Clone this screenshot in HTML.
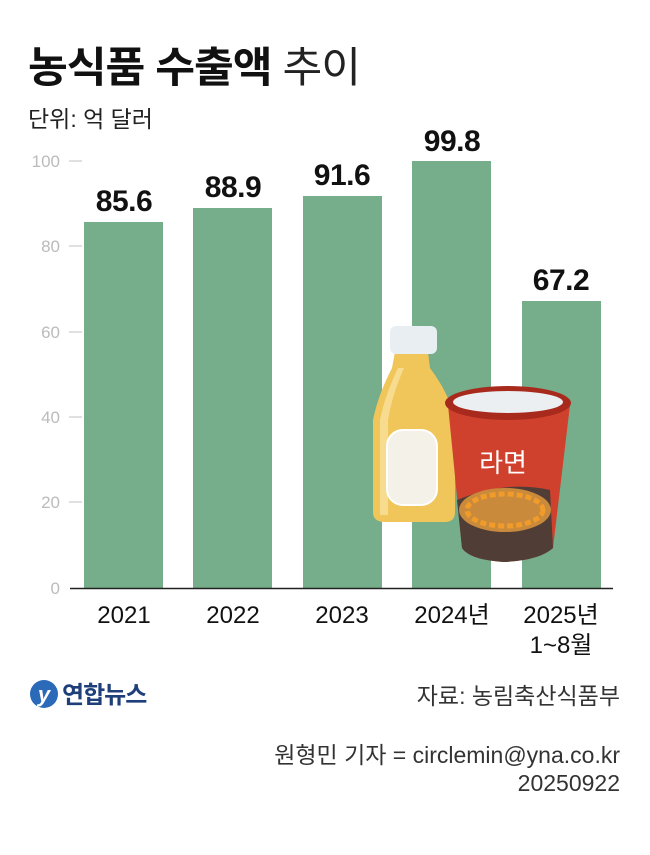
<!DOCTYPE html>
<html><head><meta charset="utf-8"><style>
body{margin:0;width:650px;height:855px;background:#fff;overflow:hidden;font-family:"Liberation Sans","Noto Sans CJK KR",sans-serif;}
</style></head><body>
<svg width="650" height="855" xmlns="http://www.w3.org/2000/svg" style="position:absolute;left:0;top:0;font-family:'Liberation Sans','Noto Sans CJK KR',sans-serif">
<text x="28" y="82" font-size="42" font-weight="bold" fill="#111" letter-spacing="-1" textLength="332" lengthAdjust="spacingAndGlyphs">농식품 수출액 <tspan font-weight="normal" fill="#222">추이</tspan></text>
<text x="28" y="127" font-size="23" fill="#222">단위: 억 달러</text>
<g font-size="17" fill="#bbb" text-anchor="end">
<text x="60" y="167">100</text><text x="60" y="252">80</text><text x="60" y="338">60</text>
<text x="60" y="423">40</text><text x="60" y="508">20</text><text x="60" y="594">0</text>
</g>
<g stroke="#ccc" stroke-width="1.2">
<line x1="69" y1="161" x2="82" y2="161"/><line x1="69" y1="246" x2="82" y2="246"/><line x1="69" y1="332" x2="82" y2="332"/>
<line x1="69" y1="417" x2="82" y2="417"/><line x1="69" y1="502" x2="82" y2="502"/>
</g>
<g fill="#76ad8b">
<rect x="84" y="222" width="79" height="366"/>
<rect x="193" y="208" width="79" height="380"/>
<rect x="303" y="196" width="79" height="392"/>
<rect x="412" y="161" width="79" height="427"/>
<rect x="522" y="301" width="79" height="287"/>
</g>
<line x1="70" y1="588.5" x2="613" y2="588.5" stroke="#222" stroke-width="1.5"/>
<g font-size="30" font-weight="bold" fill="#111" text-anchor="middle" letter-spacing="-0.5">
<text x="124" y="211">85.6</text><text x="233" y="197">88.9</text><text x="342" y="185">91.6</text>
<text x="452" y="151">99.8</text><text x="561" y="290">67.2</text>
</g>
<g font-size="24" fill="#111" text-anchor="middle">
<text x="124" y="623">2021</text><text x="233" y="623">2022</text><text x="342" y="623">2023</text>
<text x="452" y="623">2024년</text><text x="561" y="623">2025년</text><text x="561" y="653">1~8월</text>
</g>
<!-- bottle -->
<path d="M395 352 L428 352 L430 368 Q450 395 455 420 L455 512 Q455 522 445 522 L385 522 Q373 522 373 512 L373 420 Q378 395 392 368 Z" fill="#f0c55a"/>
<path d="M380 420 Q385 395 398 368 L404 368 Q392 395 388 420 L388 515 L380 515 Z" fill="#f7dc8f"/>
<rect x="390" y="326" width="47" height="28" rx="6" fill="#e8eef2"/>
<rect x="387" y="430" width="50" height="75" rx="16" fill="#f4f1e8" stroke="#fff" stroke-width="2"/>
<!-- cup -->
<path d="M448 405 L570 405 L553 548 Q540 560 505 562 Q470 560 462 548 Z" fill="#d0412d"/>
<ellipse cx="508" cy="403" rx="63" ry="17" fill="#a82a1d"/>
<ellipse cx="508" cy="402" rx="55" ry="11" fill="#eceff1"/>
<path d="M457 500 Q505 480 550 490 L553 548 Q540 560 505 562 Q470 560 462 548 Z" fill="#4f3d36"/>
<ellipse cx="505" cy="510" rx="46" ry="22" fill="#c98a3c"/>
<ellipse cx="505" cy="510" rx="38" ry="16" fill="none" stroke="#f09b2a" stroke-width="5" stroke-dasharray="6 3"/>
<text x="503" y="472" font-size="26" fill="#fff" text-anchor="middle">라면</text>
<!-- logo -->
<circle cx="44" cy="694" r="14" fill="#2a6ab8"/>
<text x="44" y="702" font-size="22" font-style="italic" font-weight="bold" fill="#fff" text-anchor="middle">y</text>
<text x="62" y="703" font-size="24" font-weight="bold" fill="#1f3f7a" letter-spacing="-1">연합뉴스</text>
<g font-size="23" fill="#333" text-anchor="end">
<text x="620" y="704">자료: 농림축산식품부</text>
<text x="620" y="763">원형민 기자 = circlemin@yna.co.kr</text>
<text x="620" y="791">20250922</text>
</g>
</svg>
</body></html>
